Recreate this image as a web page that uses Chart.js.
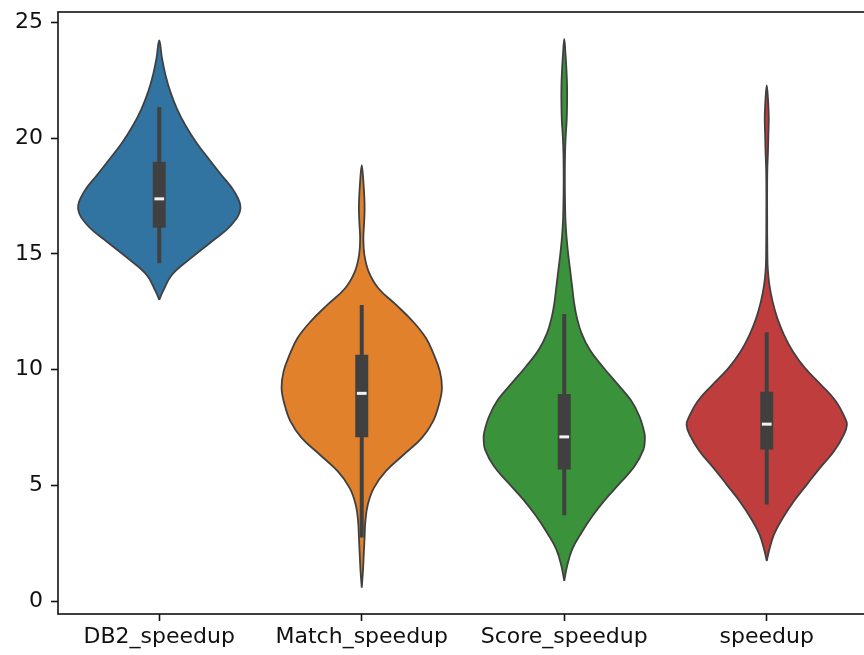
<!DOCTYPE html>
<html>
<head>
<meta charset="utf-8">
<style>
  html, body { margin: 0; padding: 0; background: #ffffff; overflow: hidden; }
  #wrap { position: relative; width: 872px; height: 655px; }
</style>
<script src="https://cdn.jsdelivr.net/npm/chart.js@4.4.1/dist/chart.umd.min.js"></script>
</head>
<body>
<div id="wrap"><canvas id="violins"></canvas></div>
<script>
// Groups along the x axis
const categories = ['DB2_speedup', 'Match_speedup', 'Score_speedup', 'speedup'];

// Density outlines: value levels (bottom to top) and the half-width of the
// violin at each level, in category units
const db2Levels = [13.02, 13.38, 14.09, 14.81, 15.53, 16.25, 16.97, 17.69, 18.41, 19.12, 19.84, 20.56, 21.28, 22.0, 22.72, 23.43, 24.22];
const db2Widths = [0, 0.018, 0.062, 0.155, 0.258, 0.356, 0.401, 0.371, 0.307, 0.243, 0.181, 0.129, 0.087, 0.055, 0.031, 0.014, 0];

const matchLevels = [0.59, 1.31, 2.03, 2.75, 3.46, 4.18, 4.90, 5.62, 6.34, 7.06, 7.77, 8.49, 9.21, 9.93, 10.65, 11.37, 12.08, 12.80, 13.52, 14.24, 14.96, 15.68, 16.39, 17.11, 18.12, 18.84];
const matchWidths = [0, 0.006, 0.010, 0.014, 0.018, 0.030, 0.060, 0.119, 0.208, 0.297, 0.352, 0.381, 0.396, 0.386, 0.356, 0.317, 0.253, 0.170, 0.082, 0.034, 0.013, 0.008, 0.012, 0.014, 0.008, 0];

const scoreLevels = [0.88, 1.52, 2.24, 2.96, 3.68, 4.40, 5.12, 5.83, 6.55, 6.98, 7.27, 7.99, 8.71, 9.43, 10.14, 10.86, 11.58, 12.30, 12.87, 13.59, 14.31, 15.03, 15.75, 16.47, 17.19, 17.90, 18.62, 19.34, 20.06, 20.78, 21.49, 22.21, 22.93, 23.65, 24.29];
const scoreWidths = [0, 0.014, 0.039, 0.085, 0.139, 0.203, 0.277, 0.347, 0.391, 0.398, 0.396, 0.371, 0.327, 0.258, 0.189, 0.126, 0.085, 0.061, 0.049, 0.039, 0.029, 0.019, 0.011, 0.006, 0.004, 0.003, 0.003, 0.004, 0.007, 0.012, 0.014, 0.014, 0.011, 0.006, 0];

const speedupLevels = [1.74, 2.17, 2.89, 3.61, 4.32, 5.04, 5.76, 6.48, 7.20, 7.63, 7.92, 8.63, 9.35, 10.07, 10.79, 11.51, 12.23, 12.94, 13.66, 14.38, 15.10, 16.54, 17.97, 18.69, 19.41, 20.13, 20.85, 21.57, 22.28];
const speedupWidths = [0, 0.011, 0.036, 0.080, 0.134, 0.198, 0.263, 0.332, 0.381, 0.396, 0.386, 0.342, 0.268, 0.189, 0.129, 0.085, 0.052, 0.029, 0.013, 0.005, 0.003, 0.002, 0.002, 0.003, 0.006, 0.008, 0.010, 0.007, 0];

// Inner box summaries per group
const whiskerLow  = [14.60, 2.75, 3.71, 4.18];
const quartile1   = [16.13, 7.08, 5.69, 6.55];
const medians     = [17.38, 8.98, 7.10, 7.65];
const quartile3   = [18.98, 10.65, 8.95, 9.05];
const whiskerHigh = [21.35, 12.80, 12.41, 11.62];

// Value axis ticks
const yTicks = [0, 5, 10, 15, 20, 25];

const outlines = [
  [db2Levels, db2Widths],
  [matchLevels, matchWidths],
  [scoreLevels, scoreWidths],
  [speedupLevels, speedupWidths]
];
const fillColors = ['#3274a1', '#e1812c', '#3a923a', '#c03d3e'];
const inkGray = '#404040';

// Closed outline: up the right side, back down the left side
function violinPath(center, levels, widths) {
  const right = levels.map((v, i) => ({ x: center + widths[i], y: v }));
  const left = [];
  for (let i = levels.length - 2; i >= 0; i--) {
    left.push({ x: center - widths[i], y: levels[i] });
  }
  return right.concat(left);
}

const datasets = [];
outlines.forEach(([levels, widths], i) => {
  datasets.push({
    data: violinPath(i, levels, widths),
    showLine: true,
    fill: 'shape',
    backgroundColor: fillColors[i],
    borderColor: inkGray,
    borderWidth: 1.8,
    tension: 0.4,
    pointRadius: 0,
    order: 4
  });
  datasets.push({
    data: [{ x: i, y: whiskerLow[i] }, { x: i, y: whiskerHigh[i] }],
    showLine: true, borderColor: inkGray, borderWidth: 4, pointRadius: 0, order: 3
  });
  datasets.push({
    data: [{ x: i, y: quartile1[i] }, { x: i, y: quartile3[i] }],
    showLine: true, borderColor: inkGray, borderWidth: 13, pointRadius: 0, order: 2
  });
  datasets.push({
    data: [{ x: i - 0.024, y: medians[i] }, { x: i + 0.024, y: medians[i] }],
    showLine: true, borderColor: '#f2f2f2', borderWidth: 3, pointRadius: 0, order: 1
  });
});

// Frame around the plotting area
const frame = {
  id: 'frame',
  afterDraw(chart) {
    const { ctx, chartArea: a } = chart;
    ctx.save();
    ctx.strokeStyle = '#111111';
    ctx.lineWidth = 1.6;
    ctx.strokeRect(a.left, a.top, a.right - a.left, a.bottom - a.top);
    ctx.restore();
  }
};

const tickFont = { family: '"DejaVu Sans", sans-serif', size: 22 };

new Chart(document.getElementById('violins'), {
  type: 'scatter',
  data: { datasets },
  options: {
    responsive: true,
    maintainAspectRatio: false,
    devicePixelRatio: 1,
    animation: false,
    events: [],
    layout: { padding: { top: 12, right: 4, left: 0, bottom: 0 } },
    plugins: { legend: { display: false }, tooltip: { enabled: false } },
    scales: {
      x: {
        type: 'linear',
        min: -0.5,
        max: 3.5,
        afterBuildTicks: s => { s.ticks = categories.map((_, i) => ({ value: i })); },
        afterFit: s => { s.height = 41; s.paddingLeft = 0; s.paddingRight = 0; },
        ticks: {
          callback: v => categories[v],
          font: tickFont,
          color: '#111111',
          padding: 3,
          maxRotation: 0,
          autoSkip: false
        },
        grid: { drawOnChartArea: false, drawTicks: true, tickLength: 7, tickWidth: 1.6, tickColor: '#111111', color: '#111111' },
        border: { display: false }
      },
      y: {
        type: 'linear',
        min: -0.55,
        max: 25.45,
        afterBuildTicks: s => { s.ticks = yTicks.map(v => ({ value: v })); },
        afterFit: s => { s.width = 58; s.paddingTop = 0; s.paddingBottom = 0; },
        ticks: {
          font: tickFont,
          color: '#111111',
          padding: 8
        },
        grid: { drawOnChartArea: false, drawTicks: true, tickLength: 7, tickWidth: 1.6, tickColor: '#111111', color: '#111111' },
        border: { display: false }
      }
    }
  },
  plugins: [frame]
});
</script>
</body>
</html>
